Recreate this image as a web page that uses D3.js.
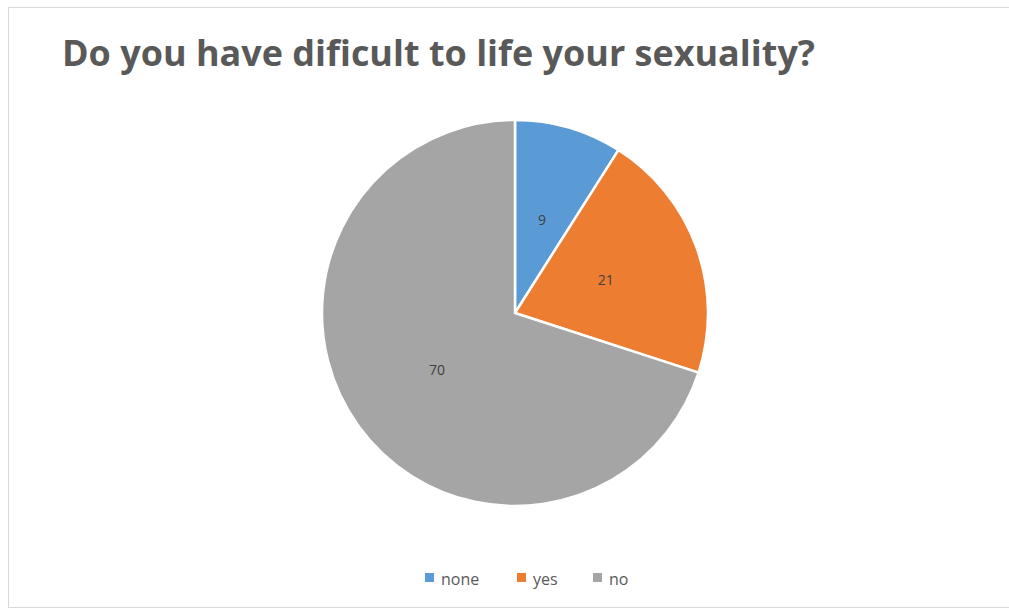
<!DOCTYPE html>
<html>
<head>
<meta charset="utf-8">
<script src="https://cdn.jsdelivr.net/npm/d3@7"></script>
<style>
  body { margin: 0; background: #fff; }
  svg { display: block; font-family: "Open Sans", "Noto Sans", sans-serif; }
</style>
</head>
<body>
<div id="chart"></div>
<script>
const title = 'Do you have dificult to life your sexuality?';
const categories = ['none', 'yes', 'no'];
const values = [9, 21, 70];
const colors = ['#5b9bd5', '#ed7d31', '#a5a5a5'];

const width = 1009, height = 612;
const cx = 515, cy = 313, radius = 193;

const svg = d3.select('#chart')
  .append('svg')
  .attr('width', width)
  .attr('height', height);

// chart area border
svg.append('rect')
  .attr('x', 8.5).attr('y', 7.5)
  .attr('width', 1010).attr('height', 600)
  .attr('fill', '#fff')
  .attr('stroke', '#d9d9d9')
  .attr('stroke-width', 1);

// title
svg.append('text')
  .attr('x', 62).attr('y', 66)
  .attr('fill', '#595959')
  .attr('font-family', '"Liberation Sans Narrow", "Open Sans", sans-serif')
  .attr('font-size', 36)
  .attr('font-weight', 'bold')
  .attr('textLength', 753)
  .attr('lengthAdjust', 'spacingAndGlyphs')
  .text(title);

const data = categories.map((c, i) => ({ name: c, value: values[i] }));

const pie = d3.pie().sort(null).value(d => d.value);
const arc = d3.arc().innerRadius(0).outerRadius(radius);
const labelArc = d3.arc().innerRadius(radius * 0.5).outerRadius(radius * 0.5);
const color = d3.scaleOrdinal().domain(categories).range(colors);

const g = svg.append('g').attr('transform', `translate(${cx},${cy})`);

const arcs = pie(data);

g.selectAll('path')
  .data(arcs)
  .enter()
  .append('path')
  .attr('d', arc)
  .attr('fill', d => color(d.data.name))
  .attr('stroke', '#fff')
  .attr('stroke-width', 2.5)
  .attr('stroke-linejoin', 'round');

g.selectAll('text.lbl')
  .data(arcs)
  .enter()
  .append('text')
  .attr('class', 'lbl')
  .attr('transform', d => `translate(${labelArc.centroid(d)})`)
  .attr('text-anchor', 'middle')
  .attr('dy', '0.35em')
  .attr('font-size', 14)
  .attr('fill', '#404040')
  .text(d => d.data.value);

// legend
const legendX = [425, 517, 593];
const legend = svg.append('g').attr('transform', 'translate(0,578)');
categories.forEach((c, i) => {
  legend.append('rect')
    .attr('x', legendX[i]).attr('y', -5)
    .attr('width', 9).attr('height', 9)
    .attr('fill', color(c));
  legend.append('text')
    .attr('x', legendX[i] + 16).attr('y', 7)
    .attr('font-size', 16)
    .attr('fill', '#595959')
    .text(c);
});
</script>
</body>
</html>
